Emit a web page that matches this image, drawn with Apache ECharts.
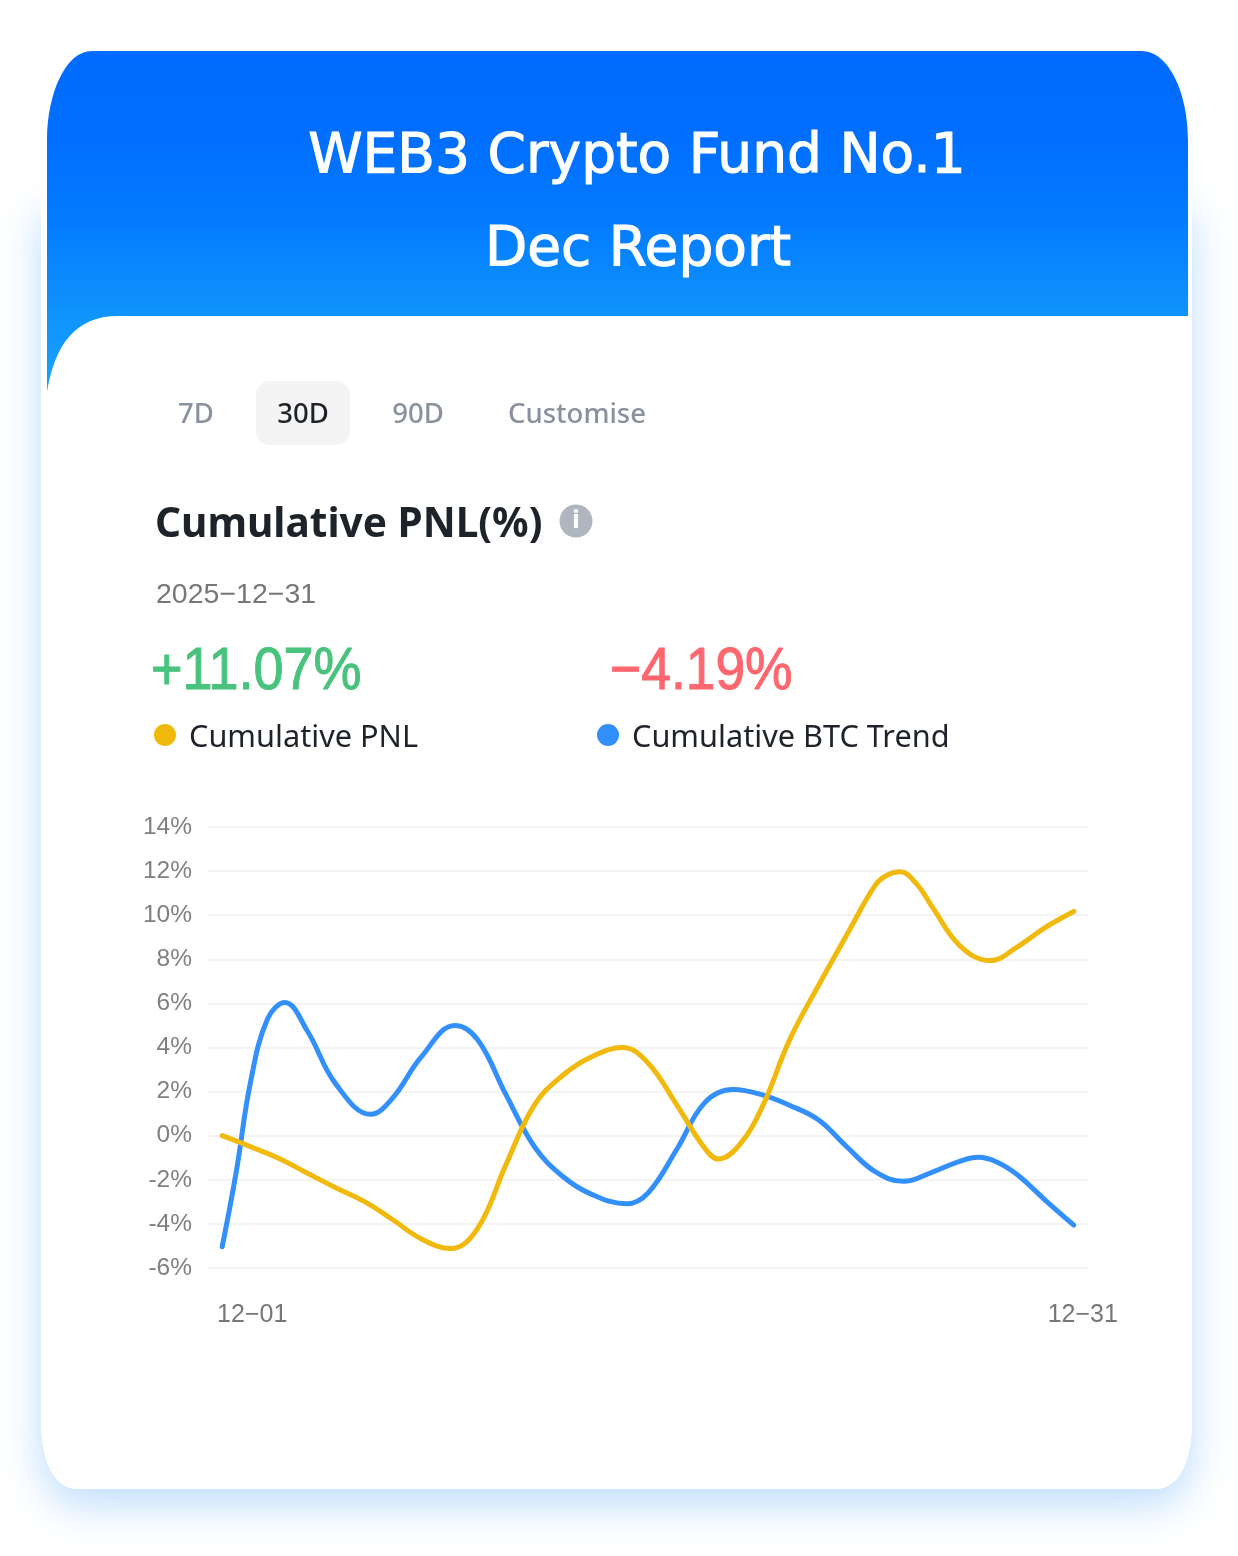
<!DOCTYPE html>
<html><head><meta charset="utf-8">
<style>html,body{margin:0;padding:0;background:#fff}#c{width:1238px;height:1556px}</style>
<script src="https://cdn.jsdelivr.net/npm/echarts@6/dist/echarts.min.js"></script>
</head><body><div id="c"></div>
<script>
const pnlDays=[1,2,3,4,5,6,7,8,9.05,10,11,12,13,14,15.1,16,17,18,18.48,19.2,20,21,22,23,24,24.4,24.88,25.46,26,27,28.05,29,30,31];
const pnlValues=[0,-0.5,-1.03,-1.7,-2.36,-2.98,-3.8,-4.67,-5.12,-4.2,-1.3,1.4,2.74,3.57,4.0,3.3,1.42,-0.57,-1.06,-0.45,1.24,4.38,6.8,9.1,11.35,11.8,11.97,11.42,10.4,8.6,7.94,8.55,9.45,10.17];
const btcDays=[1,1.5,2,2.6,3.21,4,5,6.23,7,8,9.2,10,11,12,13,14,15.25,16,17,18,19,20,21,22,23,24,25,26,27,27.64,28.3,29,30,31];
const btcValues=[-5.04,-1.6,2.45,5.3,6.04,4.75,2.35,0.97,1.7,3.55,5,4.35,1.85,-0.5,-1.85,-2.65,-3.09,-2.6,-0.65,1.5,2.09,1.86,1.37,0.72,-0.5,-1.63,-2.07,-1.66,-1.15,-0.98,-1.2,-1.76,-2.93,-4.06];
const xTickDays=[1,31];
const xTickLabels=['12−01','12−31'];
const titleLines=['WEB3 Crypto Fund No.1','Dec Report'];
const tabs=['7D','30D','90D','Customise'];
const heading='Cumulative PNL(%)';
const dateText='2025−12−31';
const pnlHeadline='+11.07%';
const btcHeadline='−4.19%';
const legendNames=['Cumulative PNL','Cumulative BTC Trend'];
const zip=(a,b)=>a.map((d,i)=>[d,b[i]]);
const UI='"Noto Sans","Open Sans",sans-serif';
const SANS='"Liberation Sans",Arial,sans-serif';
const txt=(x,y,text,size,fill,font,weight,align,extra,elExtra)=>Object.assign({type:'text',z:5,x,y,style:Object.assign({text,fontSize:size,fill,fontFamily:font||UI,fontWeight:weight||400,textAlign:align||'left',textVerticalAlign:'middle'},extra||{})},elExtra||{});
echarts.graphic.registerShape('headerBand',echarts.graphic.extendShape({
 buildPath(ctx){
  ctx.moveTo(47,392);ctx.lineTo(47,140);
  ctx.bezierCurveTo(47,95,65,51,92,51);
  ctx.lineTo(1141,51);
  ctx.bezierCurveTo(1170,51,1188,95,1188,140);
  ctx.lineTo(1188,316);ctx.lineTo(118,316);
  ctx.bezierCurveTo(75,316,55,345,47,392);
  ctx.closePath();
 }
}));
echarts.graphic.registerShape('cardBody',echarts.graphic.extendShape({
 shape:{top:60},
 buildPath(ctx,s){
  ctx.moveTo(41,s.top);ctx.lineTo(1192,s.top);ctx.lineTo(1192,1420);
  ctx.bezierCurveTo(1192,1460,1180,1489,1155,1489);
  ctx.lineTo(78,1489);
  ctx.bezierCurveTo(53,1489,41,1460,41,1420);
  ctx.closePath();
 }
}));
const chart=echarts.init(document.getElementById('c'),null,{renderer:'canvas',width:1238,height:1556});
const strong={stroke:'#fff',lineWidth:1.1};
chart.setOption({
 animation:false,backgroundColor:'#fff',
 graphic:[
  {type:'cardBody',z:0,shape:{top:200},style:{fill:'#fff',shadowBlur:42,shadowColor:'rgba(90,170,250,0.4)',shadowOffsetY:16}},
  {type:'cardBody',z:0,shape:{top:60},style:{fill:'#fff'}},
  {type:'headerBand',z:1,style:{fill:new echarts.graphic.LinearGradient(0,0,0,1,[{offset:0,color:'#006cff'},{offset:0.25,color:'#006eff'},{offset:0.5,color:'#047bff'},{offset:0.77,color:'#0f93fc'},{offset:1,color:'#18a4ff'}],false)}},
  txt(637,158,titleLines[0],55,'#fff','"DejaVu Sans"',400,'center',strong),
  txt(638,251,titleLines[1],55,'#fff','"DejaVu Sans"',400,'center',strong),
  {type:'rect',z:2,shape:{x:256,y:381,width:94,height:64,r:14},style:{fill:'#f4f4f5'}},
  txt(196,415,tabs[0],27.5,'#8a919e',UI,500,'center'),
  txt(303,415,tabs[1],27.5,'#1e2329',UI,500,'center'),
  txt(418,415,tabs[2],27.5,'#8a919e',UI,500,'center'),
  txt(508,415,tabs[3],27.5,'#8a919e',UI,500,'left'),
  txt(155,525,heading,40.6,'#1e2329',UI,700),
  {type:'circle',z:3,shape:{cx:576,cy:521,r:16.5},style:{fill:'#b0b6c0'}},
  txt(576,521,'i',24,'#fff',UI,800,'center'),
  txt(156,595,dateText,28.5,'#777',SANS),
  txt(151,673,pnlHeadline,59,'#48c27c',SANS,400,'left',{stroke:'#48c27c',lineWidth:1},{scaleX:0.915}),
  txt(610,673,btcHeadline,59,'#fd676d',SANS,400,'left',{stroke:'#fd676d',lineWidth:1},{scaleX:0.905}),
  {type:'circle',z:3,shape:{cx:165,cy:735,r:11},style:{fill:'#f0b90b'}},
  {type:'circle',z:3,shape:{cx:608,cy:735,r:11},style:{fill:'#3390fb'}},
  txt(189,738,legendNames[0],30.7,'#1e2329'),
  txt(632,738,legendNames[1],30.7,'#1e2329')
 ],
 grid:{left:208,right:150,top:827,height:441},
 xAxis:{type:'value',min:0.5,max:31.5,splitLine:{show:false},axisLine:{show:false},axisTick:{show:false},
  axisLabel:{show:true,customValues:xTickDays,margin:35,fontSize:25,color:'#777',fontFamily:SANS,
   formatter:v=>{const i=xTickDays.indexOf(v);return i===0?'{a|'+xTickLabels[0]+'}':'{b|'+xTickLabels[1]+'}';},
   rich:{a:{padding:[0,0,0,60],fontSize:25,color:'#777',fontFamily:SANS},b:{padding:[0,0,0,18],fontSize:25,color:'#777',fontFamily:SANS}}}},
 yAxis:{type:'value',min:-6,max:14,interval:2,axisLine:{show:false},axisTick:{show:false},
  splitLine:{lineStyle:{color:'#f3f3f4',width:2}},
  axisLabel:{formatter:'{value}%',margin:16,fontSize:24.5,color:'#808080',fontFamily:SANS}},
 series:[
  {name:legendNames[0],type:'line',data:zip(pnlDays,pnlValues),smooth:0.4,showSymbol:false,symbol:'none',lineStyle:{color:'#f0b90b',width:5,cap:'round'},z:3},
  {name:legendNames[1],type:'line',data:zip(btcDays,btcValues),smooth:0.4,showSymbol:false,symbol:'none',lineStyle:{color:'#3390fb',width:5,cap:'round'},z:2}
 ]
});
</script></body></html>
